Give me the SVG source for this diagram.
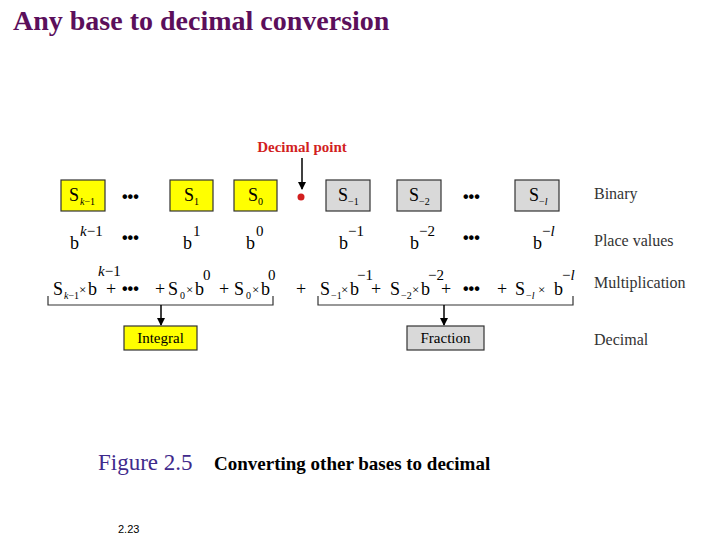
<svg xmlns="http://www.w3.org/2000/svg" width="720" height="540" viewBox="0 0 720 540">
<style>
.t{font-family:"Liberation Serif",serif;font-size:18px;fill:#000}
.x{font-family:"Liberation Serif",serif;font-size:13px;fill:#000}
.s{font-family:"Liberation Serif",serif;font-size:10px;fill:#000}
.e{font-family:"Liberation Serif",serif;font-size:15px;fill:#000}
.p{font-family:"Liberation Serif",serif;font-size:15px;fill:#000}
.d{font-family:"Liberation Sans",sans-serif;font-size:16px;font-weight:bold;fill:#000}
.lab{font-family:"Liberation Serif",serif;font-size:16px;fill:#333}
.y{fill:#FFFF00;stroke:#333;stroke-width:1.2}
.g{fill:#D9D9D9;stroke:#333;stroke-width:1.2}
.br{fill:none;stroke:#333;stroke-width:1.2}
</style>
<defs><marker id="ah" markerWidth="8" markerHeight="8" refX="7" refY="4" orient="auto" markerUnits="userSpaceOnUse"><path d="M0,0L8,4L0,8z" fill="#000"/></marker></defs>
<text x="13" y="30" font-family="Liberation Serif,serif" font-size="28" font-weight="bold" fill="#5B0F5B">Any base to decimal conversion</text>
<text x="302" y="152" text-anchor="middle" font-family="Liberation Serif,serif" font-size="15" font-weight="bold" fill="#D21F1F">Decimal point</text>
<g id="n-sk1"><rect class="y" x="61" y="180" width="44" height="31"/><text class="t" x="69" y="201">S</text><text class="s" x="80" y="205"><tspan font-style="italic">k</tspan>−1</text></g>
<g id="n-s1"><rect class="y" x="170" y="180" width="43" height="31"/><text class="t" x="184" y="201">S</text><text class="s" x="194" y="205">1</text></g>
<g id="n-s0"><rect class="y" x="234" y="180" width="43" height="31"/><text class="t" x="248" y="201">S</text><text class="s" x="258" y="205">0</text></g>
<g id="n-sm1"><rect class="g" x="326" y="180" width="44" height="31"/><text class="t" x="338" y="201">S</text><text class="s" x="348" y="205">−1</text></g>
<g id="n-sm2"><rect class="g" x="397" y="180" width="44" height="31"/><text class="t" x="409" y="201">S</text><text class="s" x="419" y="205">−2</text></g>
<g id="n-sml"><rect class="g" x="515" y="180" width="44" height="31"/><text class="t" x="529" y="201">S</text><text class="s" x="539" y="205">−<tspan font-style="italic">l</tspan></text></g>
<circle cx="301" cy="197" r="3.5" fill="#D21F1F"/>
<text class="d" x="122" y="202">•••</text><text class="d" x="463" y="202">•••</text>
<g id="place">
<text class="t" x="70" y="249">b</text><text class="p" x="80" y="236"><tspan font-style="italic">k</tspan>−1</text>
<text class="d" x="122" y="243">•••</text>
<text class="t" x="183" y="249">b</text><text class="p" x="193" y="236">1</text>
<text class="t" x="246" y="249">b</text><text class="p" x="256" y="236">0</text>
<text class="t" x="339" y="249">b</text><text class="p" x="348" y="236">−1</text>
<text class="t" x="410" y="249">b</text><text class="p" x="419" y="236">−2</text>
<text class="d" x="463" y="243">•••</text>
<text class="t" x="533" y="249">b</text><text class="p" x="542" y="236">−<tspan font-style="italic">l</tspan></text>
</g>
<g id="mult">
<text class="t" x="53" y="295">S</text><text class="s" x="64" y="299"><tspan font-style="italic">k</tspan>−1</text>
<text class="x" x="79" y="294">×</text><text class="t" x="88" y="295">b</text><text class="e" x="98" y="276"><tspan font-style="italic">k</tspan>−1</text>
<text class="t" x="106" y="295">+</text><text class="d" x="122" y="294">•••</text>
<text class="t" x="155" y="295">+</text><text class="t" x="168" y="295">S</text><text class="s" x="180" y="299">0</text>
<text class="x" x="186" y="294">×</text><text class="t" x="195" y="295">b</text><text class="e" x="203" y="280">0</text>
<text class="t" x="219" y="295">+</text><text class="t" x="234" y="295">S</text><text class="s" x="246" y="299">0</text>
<text class="x" x="252" y="294">×</text><text class="t" x="261" y="295">b</text><text class="e" x="268" y="280">0</text>
<text class="t" x="296" y="295">+</text>
<text class="t" x="320" y="295">S</text><text class="s" x="331" y="299">−1</text><text class="x" x="341" y="294">×</text><text class="t" x="350" y="295">b</text><text class="e" x="357" y="280">−1</text>
<text class="t" x="371" y="295">+</text>
<text class="t" x="390" y="295">S</text><text class="s" x="401" y="299">−2</text><text class="x" x="412" y="294">×</text><text class="t" x="421" y="295">b</text><text class="e" x="428" y="280">−2</text>
<text class="t" x="441" y="295">+</text><text class="d" x="463" y="294">•••</text><text class="t" x="497" y="295">+</text>
<text class="t" x="515" y="295">S</text><text class="s" x="526" y="299">−<tspan font-style="italic">l</tspan></text><text class="x" x="538" y="294">×</text><text class="t" x="554" y="295">b</text><text class="e" x="562" y="280">−<tspan font-style="italic">l</tspan></text>
</g>
<g id="labels">
<text class="lab" x="594" y="199">Binary</text>
<text class="lab" x="594" y="246">Place values</text>
<text class="lab" x="594" y="288">Multiplication</text>
<text class="lab" x="594" y="345">Decimal</text>
</g>
<g id="connectors">
<path class="br" d="M48,296V305H273V296"/>
<path class="br" d="M318,296V305H573V296"/>
<line x1="302" y1="158" x2="302" y2="189" stroke="#000" stroke-width="1.5" marker-end="url(#ah)"/>
<line x1="161" y1="305" x2="161" y2="325" stroke="#000" stroke-width="1.5" marker-end="url(#ah)"/>
<line x1="444" y1="305" x2="444" y2="325" stroke="#000" stroke-width="1.5" marker-end="url(#ah)"/>
</g>
<g id="n-integral"><rect class="y" x="124" y="326" width="73" height="24"/><text class="p" x="160.5" y="343" text-anchor="middle">Integral</text></g>
<g id="n-fraction"><rect class="g" x="407" y="326" width="77" height="24"/><text class="p" x="445.5" y="343" text-anchor="middle" fill="#333">Fraction</text></g>
<text x="98" y="470" font-family="Liberation Serif,serif" font-size="23" fill="#3F2A8C">Figure 2.5</text>
<text x="214" y="470" font-family="Liberation Serif,serif" font-size="19" font-weight="bold" fill="#000">Converting other bases to decimal</text>
<text x="118" y="533" font-family="Liberation Sans,sans-serif" font-size="11" fill="#000">2.23</text>
</svg>
